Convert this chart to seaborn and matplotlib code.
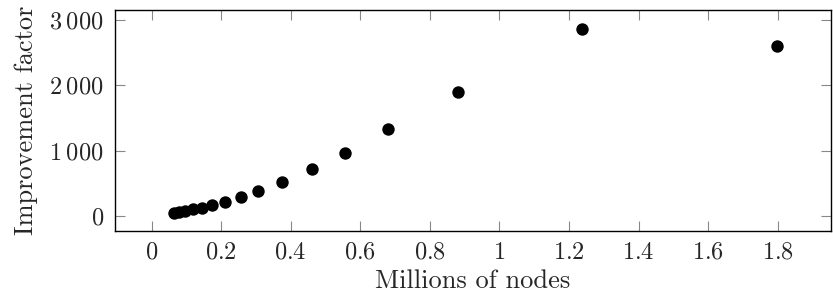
import matplotlib
matplotlib.use("Agg")
import matplotlib.pyplot as plt
import seaborn as sns
import pandas as pd
from matplotlib.ticker import FixedLocator, FixedFormatter

# Data
nodes_millions = [0.066, 0.080, 0.096, 0.120, 0.144, 0.173, 0.211, 0.256,
                  0.307, 0.374, 0.462, 0.557, 0.680, 0.880, 1.237, 1.797]
improvement = [48, 62, 80, 100, 130, 165, 212, 286,
               383, 516, 720, 969, 1327, 1894, 2864, 2603]

x_ticks = [0, 0.2, 0.4, 0.6, 0.8, 1, 1.2, 1.4, 1.6, 1.8]
x_tick_labels = ["0", "0.2", "0.4", "0.6", "0.8", "1", "1.2", "1.4", "1.6", "1.8"]
y_ticks = [0, 1000, 2000, 3000]
y_tick_labels = ["0", "1\\:000", "2\\:000", "3\\:000"]

sns.set_style("ticks")
plt.rcParams["font.family"] = ["cmr10", "DejaVu Serif"]
plt.rcParams["mathtext.fontset"] = "cm"
plt.rcParams["axes.unicode_minus"] = False

df = pd.DataFrame({"x": nodes_millions, "y": improvement})

fig = plt.figure(figsize=(8.33, 2.93), dpi=100)
ax = fig.add_axes([115 / 833, 1 - 230.7 / 293, (831 - 115) / 833, (230.7 - 10) / 293])

sns.scatterplot(data=df, x="x", y="y", ax=ax, color="black", s=80,
                edgecolor="black", linewidth=0, legend=False, zorder=3)

ax.set_xlim(-0.105, 1.953)
ax.set_ylim(-225, 3155)

ax.xaxis.set_major_locator(FixedLocator(x_ticks))
ax.xaxis.set_major_formatter(FixedFormatter(["$%s$" % t for t in x_tick_labels]))
ax.yaxis.set_major_locator(FixedLocator(y_ticks))
ax.yaxis.set_major_formatter(FixedFormatter(["$%s$" % t for t in y_tick_labels]))

ax.tick_params(direction="in", length=7, width=0.8, color="#888888",
               top=True, right=True, labelsize=17.5, pad=8)
for sp in ax.spines.values():
    sp.set_visible(True)
    sp.set_color("black")
    sp.set_linewidth(1.0)

ax.set_xlabel("Millions of nodes", fontsize=19, labelpad=4)
ax.set_ylabel("Improvement factor", fontsize=19, labelpad=8)

fig.savefig("out.png", dpi=100)
